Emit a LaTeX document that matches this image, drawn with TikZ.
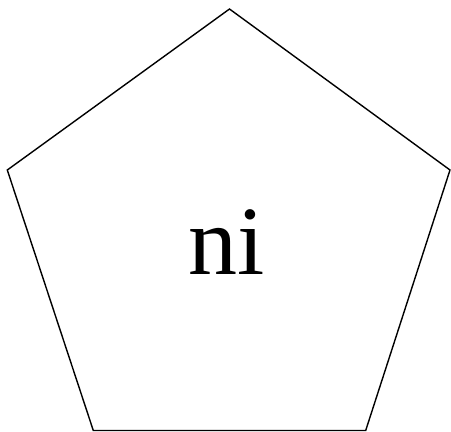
\documentclass[tikz,border=0pt]{standalone}
\usepackage{fontspec}
\setmainfont{Liberation Serif}
\begin{document}
\begin{tikzpicture}[x=1pt,y=-1pt,
  outline/.style={draw=black,line width=1.4pt,line join=miter},
  label/.style={inner sep=0pt,font=\fontsize{98}{98}\selectfont}]
\useasboundingbox (0,0) rectangle (451,432);
\coordinate (top) at (229.5,9);
\coordinate (rt) at (450,170);
\coordinate (br) at (365.7,430.5);
\coordinate (bl) at (93.3,430.5);
\coordinate (lt) at (7.3,170);
\draw[outline] (top) -- (rt) -- (br) -- (bl) -- (lt) -- cycle;
\node[label,anchor=base] (txt) at (226.2,274) {ni};
\end{tikzpicture}
\end{document}
